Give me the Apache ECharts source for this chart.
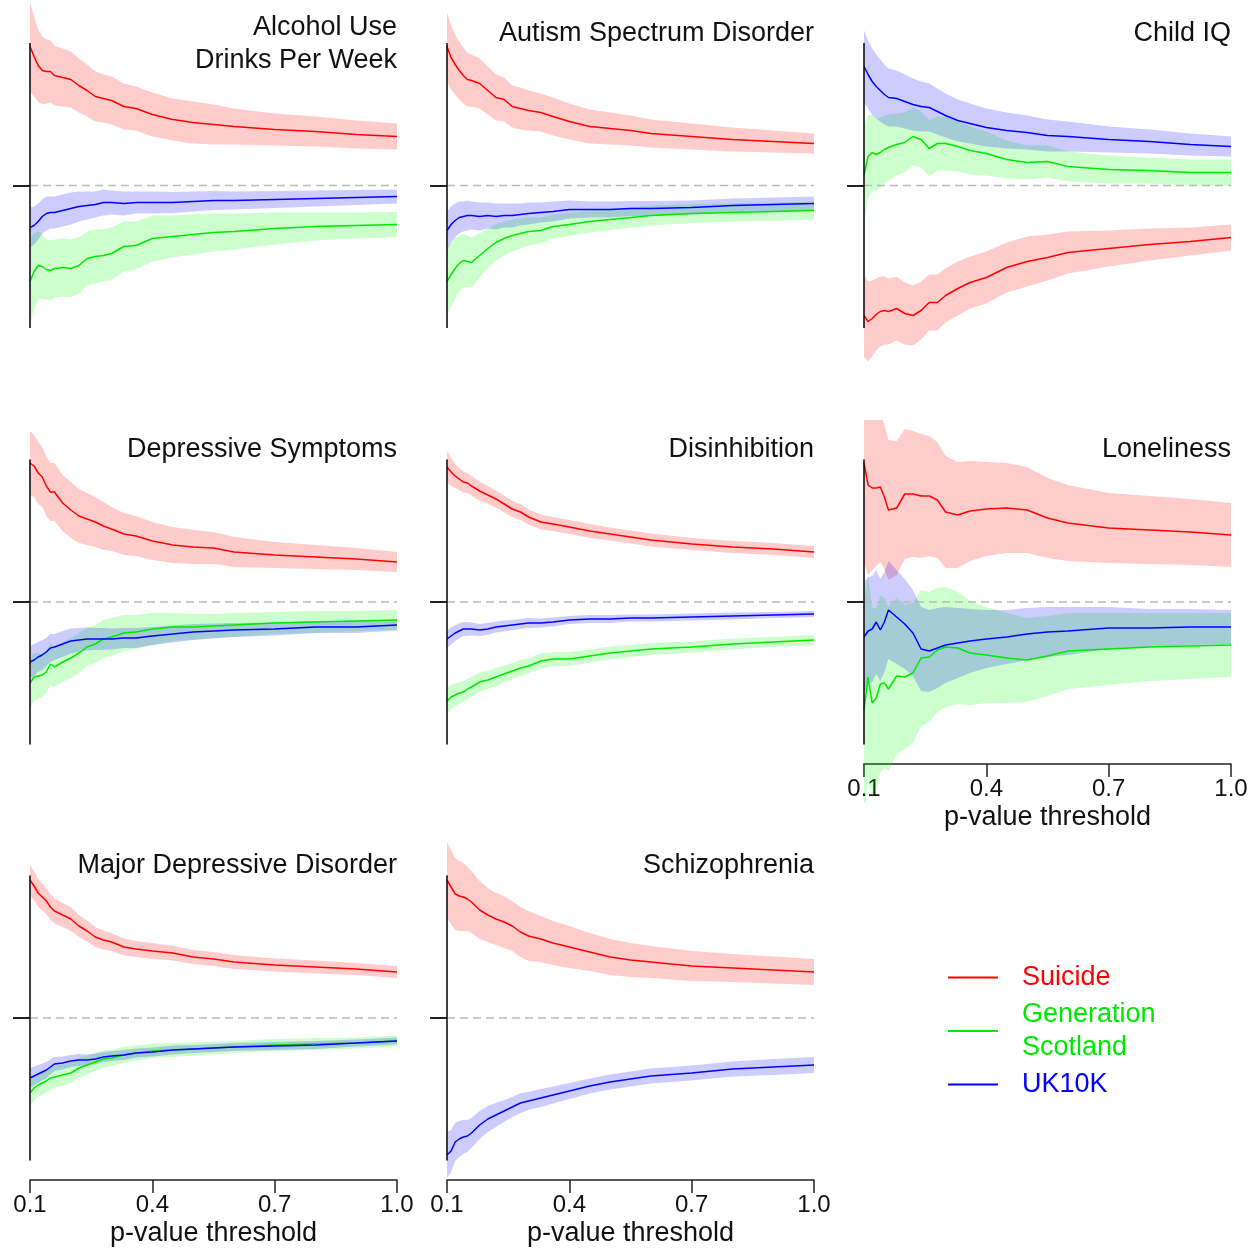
<!DOCTYPE html>
<html>
<head>
<meta charset="utf-8">
<script src="https://cdn.jsdelivr.net/npm/echarts@6/dist/echarts.min.js"></script>
<style>
  html, body { margin: 0; padding: 0; background: #fff; }
</style>
</head>
<body>
<div id="prs-chart" style="width: 1257px; height: 1254px"></div>
<script>
// p-value thresholds where the curves were read
const pThresholds = [0.10, 0.11, 0.12, 0.13, 0.14, 0.15, 0.16, 0.18, 0.20, 0.22, 0.24, 0.26, 0.28, 0.30,
  0.33, 0.36, 0.40, 0.45, 0.50, 0.55, 0.60, 0.70, 0.80, 0.90, 1.00];
const xTicks = [0.1, 0.4, 0.7, 1.0];

// effect estimate and CI half-width (arbitrary units, x100), one pair per cohort
const alcoholSuicide = [139, 129, 120, 115, 114, 114, 110, 108, 106, 100, 95, 89, 87, 85, 79, 77, 71, 66, 63, 61, 59, 56, 54, 51, 49];
const alcoholSuicideCi = [45, 40, 36, 34, 32, 31, 30, 29, 28, 27, 26, 25, 24, 24, 23, 22, 22, 21, 21, 20, 18, 16, 15, 14, 13];
const alcoholGS = [-96, -86, -80, -81, -84, -85, -83, -82, -83, -80, -73, -71, -70, -68, -61, -60, -53, -51, -49, -47, -46, -43, -41, -40, -39];
const alcoholGSCi = [43, 38, 34, 32, 30, 30, 29, 29, 29, 28, 27, 27, 26, 26, 25, 24, 23, 21, 20, 19, 18, 16, 14, 13, 12.5];
const alcoholUK = [-42, -40, -36, -31, -28, -27, -27, -25, -23, -21, -20, -19, -17, -17, -18, -17, -17, -17, -16, -15, -15, -14, -13, -12, -11];
const alcoholUKCi = [20, 19, 18, 17, 17, 16, 16, 16, 16, 15, 14, 13, 13, 12, 12, 11, 11, 10.5, 10, 9.5, 9, 8.5, 8, 7.5, 7];

const autismSuicide = [139, 128, 121, 115, 110, 106, 105, 102, 95, 88, 86, 79, 77, 75, 73, 69, 64, 59, 57, 55, 52, 49, 46, 44, 42];
const autismSuicideCi = [34, 32, 30, 29, 28, 27, 26, 25, 24, 23, 22, 21, 21, 20, 19, 19, 18, 17, 16, 15, 14, 13, 12, 11, 10];
const autismGS = [-96, -89, -83, -78, -75, -76, -77, -70, -63, -57, -53, -50, -48, -46, -45, -41, -39, -36, -34, -32, -30, -28, -27, -26, -25];
const autismGSCi = [34, 32, 30, 28, 27, 26, 25, 22, 20, 18, 17, 16, 15, 14, 13, 12, 11.5, 11, 10.5, 10, 10, 9.5, 9, 9, 9];
const autismUK = [-45, -39, -35, -32, -31, -30, -30, -31, -30, -31, -30, -30, -29, -28, -27, -26, -24, -24, -24, -23, -23, -22, -20, -19, -18];
const autismUKCi = [19, 18, 17, 16, 15, 15, 14, 14, 13, 13, 12, 12, 11, 11, 10, 10, 9, 8, 8, 7.5, 7.5, 7, 7, 7, 7];

const childIqSuicide = [-130, -136, -133, -129, -126, -125, -126, -123, -128, -130, -125, -117, -117, -110, -103, -97, -92, -82, -76, -72, -67, -63, -59, -56, -52];
const childIqSuicideCi = [41, 40, 38, 36, 35, 34, 33, 32, 31, 30, 29, 28, 28, 27, 27, 26, 26, 25, 25, 23, 21, 18, 16, 14, 13];
const childIqGS = [10, 29, 33, 31, 33, 36, 38, 41, 43, 49, 46, 37, 42, 42, 39, 35, 32, 26, 23, 24, 19, 16, 15, 13, 13];
const childIqGSCi = [50, 42, 38, 36, 35, 34, 33, 31, 30, 29, 28, 28, 27, 27, 25, 24, 22, 19, 17, 16, 15, 14, 13, 13, 13];
const childIqUK = [119, 111, 104, 99, 95, 91, 88, 87, 84, 81, 79, 78, 74, 70, 65, 62, 58, 55, 53, 50, 49, 46, 44, 41, 39];
const childIqUKCi = [36, 34, 33, 32, 31, 30, 29, 28, 27, 26, 25, 24, 23, 22, 21, 20, 19, 18, 17, 16, 15, 13, 12, 11, 10];

const depSymSuicide = [139, 136, 129, 125, 116, 110, 110, 99, 92, 86, 83, 80, 76, 73, 68, 66, 61, 57, 55, 54, 50, 47, 45, 43, 40];
const depSymSuicideCi = [32, 31, 31, 30, 30, 29, 29, 28, 28, 27, 26, 25, 24, 22, 21, 20, 19, 18, 17, 16, 15, 13, 12, 11, 10];
const depSymGS = [-81, -75, -74, -73, -70, -62, -65, -60, -56, -51, -45, -42, -37, -35, -31, -30, -27, -25, -25, -24, -23, -21, -20, -19, -18];
const depSymGSCi = [25, 24, 23, 22, 21, 21, 20, 20, 20, 20, 19, 19, 19, 19, 18, 17, 16, 14, 13, 12, 12, 11, 11, 10, 10];
const depSymUK = [-60, -58, -55, -53, -50, -46, -45, -42, -39, -38, -37, -37, -37, -37, -36, -36, -34, -32, -30, -29, -28, -27, -25, -25, -23];
const depSymUKCi = [16, 16, 15, 15, 14, 14, 13, 13, 12.5, 12, 11.5, 11, 11, 10.5, 10, 10, 9, 8.5, 8, 7.5, 7, 6.5, 6, 6, 5.5];

const disinhSuicide = [135, 130, 126, 123, 120, 119, 116, 111, 107, 103, 98, 93, 90, 85, 80, 78, 75, 71, 68, 65, 62, 58, 55, 53, 50];
const disinhSuicideCi = [16, 14, 12, 11, 10.5, 10, 10, 9.5, 9, 8.5, 8.5, 8, 8, 7.5, 7.5, 7, 7, 7, 6.5, 6.5, 6.5, 6, 6, 6, 6];
const disinhGS = [-99, -95, -93, -91, -90, -87, -85, -80, -78, -75, -72, -69, -66, -64, -59, -57, -57, -54, -51, -49, -47, -45, -42, -40, -38];
const disinhGSCi = [13, 12, 11.5, 11, 10.5, 10, 10, 9.5, 9, 9, 8.5, 8, 8, 7.5, 7.5, 7, 7, 6.5, 6.5, 6, 6, 5.5, 5.5, 5, 5];
const disinhUK = [-37, -34, -31, -29, -27, -27, -27, -28, -27, -25, -24, -23, -22, -21, -21, -20, -18, -17, -17, -16, -16, -15, -14, -13, -12];
const disinhUKCi = [9, 8.5, 8, 7.5, 7, 7, 6.5, 6, 6, 5.5, 5.5, 5, 5, 5, 4.5, 4.5, 4, 4, 4, 3.5, 3.5, 3.5, 3.5, 3, 3];

const lonelySuicide = [139, 117, 114, 114, 115, 105, 92, 94, 108, 108, 106, 106, 102, 90, 87, 91, 93, 94, 92, 84, 79, 74, 72, 70, 67];
const lonelySuicideCi = [100, 90, 82, 78, 75, 72, 70, 67, 65, 63, 62, 60, 58, 56, 53, 50, 47, 45, 43, 40, 38, 35, 34, 33, 32];
const lonelyGS = [-108, -75, -101, -96, -82, -81, -87, -74, -75, -71, -56, -55, -48, -45, -46, -51, -53, -56, -58, -54, -49, -47, -45, -44, -43];
const lonelyGSCi = [110, 100, 95, 90, 88, 85, 82, 78, 72, 70, 68, 65, 62, 60, 56, 52, 48, 45, 42, 40, 38, 36, 34, 33, 32];
const lonelyUK = [-35, -29, -27, -20, -28, -20, -8, -15, -22, -31, -47, -49, -46, -43, -41, -39, -37, -35, -32, -30, -29, -26, -26, -25, -25];
const lonelyUKCi = [55, 54, 53, 52, 51, 50, 49, 47, 45, 43, 42, 41, 40, 38, 35, 32, 29, 27, 26, 25, 24, 21, 19, 18, 17];

const mddSuicide = [138, 132, 125, 121, 117, 111, 107, 103, 99, 92, 87, 81, 78, 76, 71, 69, 67, 65, 61, 59, 56, 53, 51, 49, 46];
const mddSuicideCi = [15, 14.5, 14, 13.5, 13, 13, 12.5, 12, 12, 11, 10.5, 10, 9.5, 9, 8.5, 8, 8, 7.5, 7, 7, 7, 6.5, 6.5, 6, 6];
const mddGS = [-75, -70, -67, -65, -63, -60, -59, -57, -55, -50, -47, -44, -41, -40, -37, -35, -33, -32, -31, -30, -29, -27, -26, -25, -23];
const mddGSCi = [13, 12.5, 12, 12, 11.5, 11, 11, 10.5, 10, 10, 9.5, 9, 8.5, 8, 8, 7.5, 7, 7, 6.5, 6.5, 6, 6, 6, 5.5, 5.5];
const mddUK = [-60, -58, -56, -54, -52, -49, -46, -45, -43, -42, -42, -41, -39, -38, -37, -35, -34, -32, -31, -30, -29, -28, -27, -25, -23];
const mddUKCi = [10, 9.5, 9, 8.5, 8, 7.5, 7, 6.5, 6, 6, 5.5, 5.5, 5, 5, 5, 4.5, 4.5, 4.5, 4, 4, 4, 4, 4, 3.5, 3.5];

const sczSuicide = [138, 131, 124, 122, 121, 119, 116, 108, 103, 99, 96, 92, 86, 82, 79, 75, 71, 66, 61, 58, 56, 52, 50, 48, 46];
const sczSuicideCi = [38, 37, 36, 35, 34, 32, 31, 29, 27, 26, 26, 25, 25, 25, 23, 22, 21, 19, 18, 17, 16, 15, 14, 13.5, 13];
const sczUK = [-137, -133, -124, -121, -119, -118, -115, -107, -101, -97, -93, -89, -85, -83, -80, -77, -73, -68, -64, -61, -58, -55, -51, -49, -47];
const sczUKCi = [23, 21, 19, 18, 17, 16, 15, 14, 13, 12, 11, 10, 10, 9, 9, 8.5, 8, 7.5, 7.5, 7.5, 7.5, 7.5, 7.5, 8, 8];

const cohorts = [
  { key: "suicide", name: "Suicide", color: "#ff0000", band: "rgba(255, 0, 0, 0.2)" },
  { key: "gs", name: "Generation\nScotland", color: "#00e800", band: "rgba(0, 255, 0, 0.2)" },
  { key: "uk", name: "UK10K", color: "#0000ff", band: "rgba(0, 0, 255, 0.2)" },
];

const panels = [
  { title: ["Alcohol Use", "Drinks Per Week"], row: 0, col: 0, suicide: [alcoholSuicide, alcoholSuicideCi], gs: [alcoholGS, alcoholGSCi], uk: [alcoholUK, alcoholUKCi] },
  { title: ["Autism Spectrum Disorder"], row: 0, col: 1, suicide: [autismSuicide, autismSuicideCi], gs: [autismGS, autismGSCi], uk: [autismUK, autismUKCi] },
  { title: ["Child IQ"], row: 0, col: 2, suicide: [childIqSuicide, childIqSuicideCi], gs: [childIqGS, childIqGSCi], uk: [childIqUK, childIqUKCi] },
  { title: ["Depressive Symptoms"], row: 1, col: 0, suicide: [depSymSuicide, depSymSuicideCi], gs: [depSymGS, depSymGSCi], uk: [depSymUK, depSymUKCi] },
  { title: ["Disinhibition"], row: 1, col: 1, suicide: [disinhSuicide, disinhSuicideCi], gs: [disinhGS, disinhGSCi], uk: [disinhUK, disinhUKCi] },
  { title: ["Loneliness"], row: 1, col: 2, showX: true, suicide: [lonelySuicide, lonelySuicideCi], gs: [lonelyGS, lonelyGSCi], uk: [lonelyUK, lonelyUKCi] },
  { title: ["Major Depressive Disorder"], row: 2, col: 0, showX: true, suicide: [mddSuicide, mddSuicideCi], gs: [mddGS, mddGSCi], uk: [mddUK, mddUKCi] },
  { title: ["Schizophrenia"], row: 2, col: 1, showX: true, suicide: [sczSuicide, sczSuicideCi], uk: [sczUK, sczUKCi] },
];

// layout (px)
const W = 1257;
const colLeft = [30, 447, 864];
const plotWidth = 367;
const rowZero = [185.5, 602, 1018];
const yMin = -201;
const yMax = 182;
const axisHalfSpan = 142.5;
const font = "Liberation Sans, Arial, Helvetica, sans-serif";

const chartDom = document.getElementById("prs-chart");
const myChart = echarts.init(chartDom);

const grids = [];
const xAxes = [];
const yAxes = [];
const titles = [];
const series = [];

// polygon between lower and upper edge, drawn once per series
function renderBand(color) {
  return function (params, api) {
    if (params.dataIndex !== 0) return null;
    const n = params.dataInsideLength;
    const upper = [];
    const lower = [];
    for (let k = 0; k < n; k++) {
      upper.push(api.coord([api.value(0, k), api.value(2, k)]));
      lower.push(api.coord([api.value(0, k), api.value(1, k)]));
    }
    return {
      type: "polygon",
      shape: { points: upper.concat(lower.reverse()) },
      style: { fill: color },
      silent: true,
    };
  };
}

panels.forEach((p, i) => {
  grids.push({
    left: colLeft[p.col],
    top: rowZero[p.row] - yMax,
    width: plotWidth,
    height: yMax - yMin,
    outerBoundsMode: "none",
  });

  // one title per line so every line stays right aligned
  const firstTop = rowZero[p.row] - 168.5 - (p.title.length - 1) * 5.5;
  p.title.forEach((line, j) => {
    titles.push({
      text: line,
      right: W - (colLeft[p.col] + plotWidth),
      top: firstTop + j * 33,
      padding: 0,
      textStyle: { fontSize: 27, fontWeight: "normal", color: "#111", lineHeight: 33, fontFamily: font },
    });
  });

  xAxes.push({
    gridIndex: i,
    type: "value",
    min: 0.1,
    max: 1.0,
    show: !!p.showX,
    offset: -39,
    name: "p-value threshold",
    nameLocation: "middle",
    nameGap: 40,
    nameTextStyle: { fontSize: 27, color: "#111", fontFamily: font },
    axisLine: { onZero: false, lineStyle: { color: "#222", width: 1.5 } },
    axisTick: { customValues: xTicks, length: 13, lineStyle: { color: "#222", width: 1.5 } },
    axisLabel: {
      customValues: xTicks,
      fontSize: 24,
      margin: 13,
      color: "#111",
      fontFamily: font,
      formatter: (v) => v.toFixed(1),
    },
    splitLine: { show: false },
  });

  yAxes.push({
    gridIndex: i,
    type: "value",
    min: yMin,
    max: yMax,
    axisLine: { show: false, onZero: false },
    axisTick: { show: true, customValues: [0], length: 17, lineStyle: { color: "#222", width: 2 } },
    axisLabel: { show: false },
    splitLine: { show: false },
  });

  // confidence bands
  cohorts.forEach((c) => {
    if (!p[c.key]) return;
    const [est, ci] = p[c.key];
    series.push({
      name: c.name + " CI",
      type: "custom",
      xAxisIndex: i,
      yAxisIndex: i,
      clip: true,
      data: pThresholds.map((x, k) => [x, est[k] - ci[k], est[k] + ci[k]]),
      encode: { x: 0, y: [1, 2] },
      renderItem: renderBand(c.band),
      silent: true,
      z: 1,
    });
  });

  // zero reference
  series.push({
    type: "line",
    xAxisIndex: i,
    yAxisIndex: i,
    data: [[0.1, 0], [1.0, 0]],
    symbol: "none",
    lineStyle: { color: "#bbbbbb", width: 1.5, type: [8, 5] },
    silent: true,
    z: 2,
  });

  cohorts.forEach((c) => {
    if (!p[c.key]) return;
    const est = p[c.key][0];
    series.push({
      name: c.name,
      type: "line",
      xAxisIndex: i,
      yAxisIndex: i,
      data: pThresholds.map((x, k) => [x, est[k]]),
      color: c.color,
      symbol: "none",
      lineStyle: { color: c.color, width: 1.5 },
      silent: true,
      z: 3,
    });
  });

  // y axis line only spans the central range
  series.push({
    type: "line",
    xAxisIndex: i,
    yAxisIndex: i,
    data: [[0.1, -axisHalfSpan], [0.1, axisHalfSpan]],
    symbol: "none",
    clip: false,
    lineStyle: { color: "#111", width: 1.6 },
    silent: true,
    z: 4,
  });
});

const option = {
  backgroundColor: "#ffffff",
  animation: false,
  textStyle: { fontFamily: font },
  title: titles,
  legend: {
    left: 948,
    top: 961,
    orient: "vertical",
    padding: 0,
    icon: "rect",
    itemWidth: 50,
    itemHeight: 2,
    itemGap: 4,
    selectedMode: false,
    textStyle: { fontSize: 27, lineHeight: 33, padding: [0, 0, 0, 19], fontFamily: font },
    data: cohorts.map((c) => ({ name: c.name, textStyle: { color: c.color } })),
  },
  grid: grids,
  xAxis: xAxes,
  yAxis: yAxes,
  series: series,
};

myChart.setOption(option);
</script>
</body>
</html>
